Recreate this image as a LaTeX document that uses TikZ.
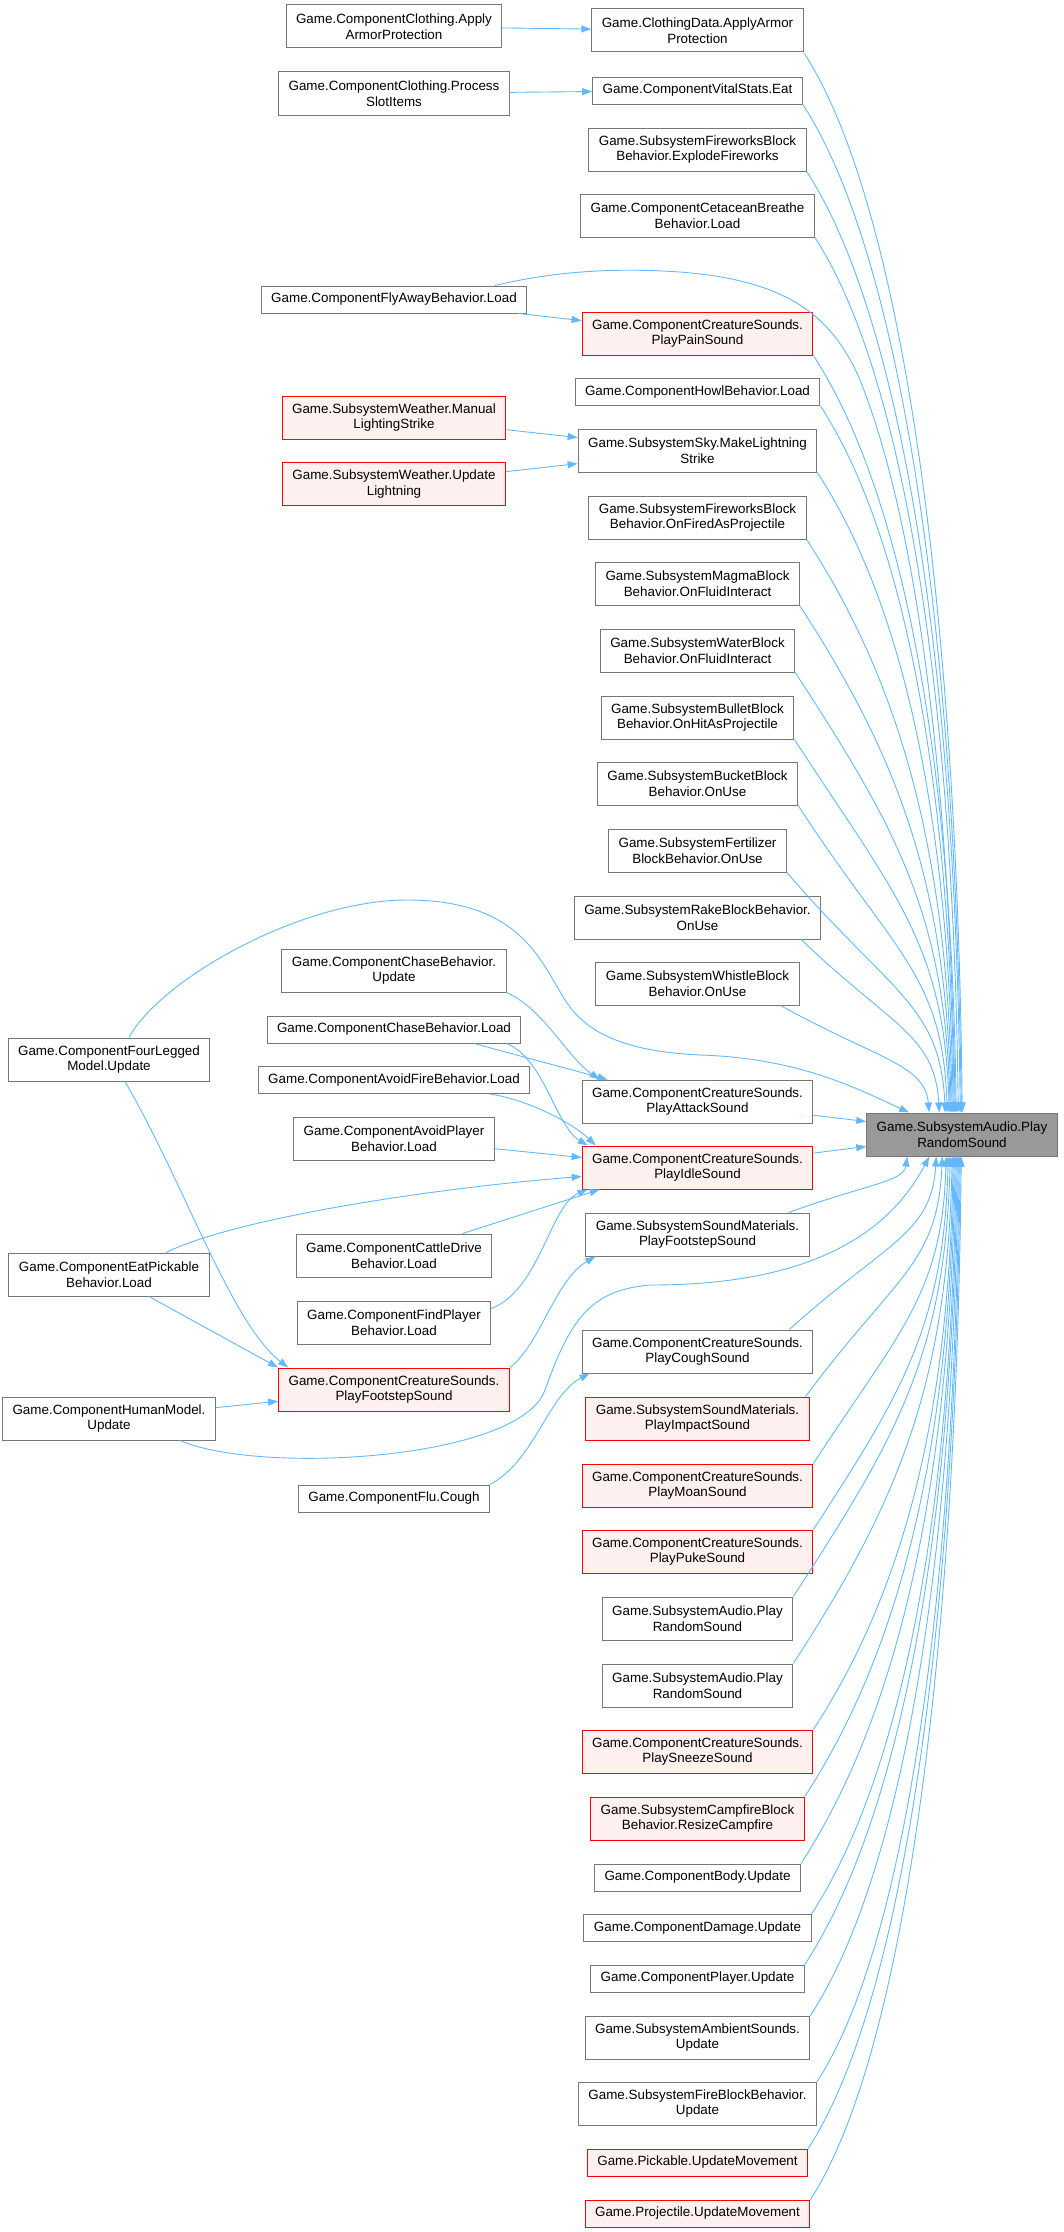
\documentclass[tikz,border=0pt]{standalone}
\usepackage{fontspec}
\setmainfont{Liberation Sans}
\usetikzlibrary{arrows.meta,calc}

\definecolor{edgeblue}{HTML}{63B8FF}
\definecolor{boxgray}{HTML}{777777}
\definecolor{hotfill}{HTML}{FFF0F0}
\definecolor{selfgray}{HTML}{999999}

\begin{document}
\begin{tikzpicture}[x=1pt,y=1pt,
	fn/.style={draw=boxgray, fill=white, line width=1pt, align=center, inner xsep=10pt, inner ysep=1pt, minimum height=27pt, font=\fontsize{13.4pt}{15.7pt}\selectfont},
	two/.style={minimum height=43pt},
	hot/.style={draw=red, fill=hotfill},
	self/.style={fill=selfgray},
	call/.style={draw=edgeblue, line width=0.9pt, -{Triangle[length=10pt,width=7pt]}}]
	\useasboundingbox (0,0) rectangle (1063,-2232);

	% the callee
	\node[fn,two,self] (audioMain) at (962,-1134.5) {Game.SubsystemAudio.Play\\RandomSound};

	% direct callers
	\node[fn,two] (clothData) at (697.5,-30.5) {Game.ClothingData.ApplyArmor\\Protection};
	\node[fn] (vitalEat) at (697.5,-90.5) {Game.ComponentVitalStats.Eat};
	\node[fn,two] (fwExplode) at (697.5,-149.5) {Game.SubsystemFireworksBlock\\Behavior.ExplodeFireworks};
	\node[fn,two] (cetacean) at (697.5,-215.5) {Game.ComponentCetaceanBreathe\\Behavior.Load};
	\node[fn,two,hot] (painSnd) at (697.5,-333.5) {Game.ComponentCreatureSounds.\\PlayPainSound};
	\node[fn] (howl) at (697.5,-392) {Game.ComponentHowlBehavior.Load};
	\node[fn,two] (skyStrike) at (697.5,-450.5) {Game.SubsystemSky.MakeLightning\\Strike};
	\node[fn,two] (fwFired) at (697.5,-517.5) {Game.SubsystemFireworksBlock\\Behavior.OnFiredAsProjectile};
	\node[fn,two] (magma) at (697.5,-584) {Game.SubsystemMagmaBlock\\Behavior.OnFluidInteract};
	\node[fn,two] (water) at (697.5,-650.5) {Game.SubsystemWaterBlock\\Behavior.OnFluidInteract};
	\node[fn,two] (bullet) at (697.5,-717.5) {Game.SubsystemBulletBlock\\Behavior.OnHitAsProjectile};
	\node[fn,two] (bucket) at (697.5,-783.5) {Game.SubsystemBucketBlock\\Behavior.OnUse};
	\node[fn,two] (fertil) at (697.5,-850.5) {Game.SubsystemFertilizer\\BlockBehavior.OnUse};
	\node[fn,two] (rake) at (697.5,-917.5) {Game.SubsystemRakeBlockBehavior.\\OnUse};
	\node[fn,two] (whistle) at (697.5,-983.5) {Game.SubsystemWhistleBlock\\Behavior.OnUse};
	\node[fn,two] (attackSnd) at (697.5,-1101.5) {Game.ComponentCreatureSounds.\\PlayAttackSound};
	\node[fn,two,hot] (idleSnd) at (697.5,-1167.5) {Game.ComponentCreatureSounds.\\PlayIdleSound};
	\node[fn,two] (smFootstep) at (697.5,-1234.5) {Game.SubsystemSoundMaterials.\\PlayFootstepSound};
	\node[fn,two] (coughSnd) at (697.5,-1351.5) {Game.ComponentCreatureSounds.\\PlayCoughSound};
	\node[fn,two,hot] (impactSnd) at (697.5,-1418.5) {Game.SubsystemSoundMaterials.\\PlayImpactSound};
	\node[fn,two,hot] (moanSnd) at (697.5,-1485.5) {Game.ComponentCreatureSounds.\\PlayMoanSound};
	\node[fn,two,hot] (pukeSnd) at (697.5,-1551.5) {Game.ComponentCreatureSounds.\\PlayPukeSound};
	\node[fn,two] (audioA) at (697.5,-1618.5) {Game.SubsystemAudio.Play\\RandomSound};
	\node[fn,two] (audioB) at (697.5,-1685.5) {Game.SubsystemAudio.Play\\RandomSound};
	\node[fn,two,hot] (sneezeSnd) at (697.5,-1751.5) {Game.ComponentCreatureSounds.\\PlaySneezeSound};
	\node[fn,two,hot] (campfire) at (697.5,-1818.5) {Game.SubsystemCampfireBlock\\Behavior.ResizeCampfire};
	\node[fn] (body) at (697.5,-1877.5) {Game.ComponentBody.Update};
	\node[fn] (damage) at (697.5,-1928) {Game.ComponentDamage.Update};
	\node[fn] (player) at (697.5,-1978.5) {Game.ComponentPlayer.Update};
	\node[fn,two] (ambient) at (697.5,-2037.5) {Game.SubsystemAmbientSounds.\\Update};
	\node[fn,two] (fireBlock) at (697.5,-2103.5) {Game.SubsystemFireBlockBehavior.\\Update};
	\node[fn,hot] (pickable) at (697.5,-2162.5) {Game.Pickable.UpdateMovement};
	\node[fn,hot] (projectile) at (697.5,-2213.5) {Game.Projectile.UpdateMovement};

	% second level
	\node[fn,two] (clothApply) at (394,-26.5) {Game.ComponentClothing.Apply\\ArmorProtection};
	\node[fn,two] (clothProc) at (394,-93.5) {Game.ComponentClothing.Process\\SlotItems};
	\node[fn] (flyAway) at (394,-299.5) {Game.ComponentFlyAwayBehavior.Load};
	\node[fn,two,hot] (wManual) at (394,-417.5) {Game.SubsystemWeather.Manual\\LightingStrike};
	\node[fn,two,hot] (wUpdate) at (394,-484) {Game.SubsystemWeather.Update\\Lightning};
	\node[fn,two] (chaseUpd) at (394,-970.5) {Game.ComponentChaseBehavior.\\Update};
	\node[fn] (chaseLoad) at (394,-1029.5) {Game.ComponentChaseBehavior.Load};
	\node[fn] (avoidFire) at (394,-1080) {Game.ComponentAvoidFireBehavior.Load};
	\node[fn,two] (avoidPlayer) at (394,-1138.5) {Game.ComponentAvoidPlayer\\Behavior.Load};
	\node[fn,two] (cattle) at (394,-1255.5) {Game.ComponentCattleDrive\\Behavior.Load};
	\node[fn,two] (findPlayer) at (394,-1322.5) {Game.ComponentFindPlayer\\Behavior.Load};
	\node[fn,two,hot] (csFootstep) at (394,-1389.5) {Game.ComponentCreatureSounds.\\PlayFootstepSound};
	\node[fn] (fluCough) at (394,-1498.5) {Game.ComponentFlu.Cough};

	% third level
	\node[fn,two] (fourLeg) at (109,-1059.5) {Game.ComponentFourLegged\\Model.Update};
	\node[fn,two] (eatPick) at (109,-1274.5) {Game.ComponentEatPickable\\Behavior.Load};
	\node[fn,two] (humanModel) at (109,-1418.5) {Game.ComponentHumanModel.\\Update};

	% calls into the callee
	\foreach \nd/\s/\e in {clothData/0/96, vitalEat/0/95, fwExplode/0/94, cetacean/0/92, painSnd/0/90, howl/0/88, skyStrike/0/87, fwFired/0/86, magma/0/85, water/0/84, bullet/0/83, bucket/0/81, fertil/0/79, rake/20/73, whistle/19/63}
		\draw[call] let \p1=([xshift=-\s pt]\nd.south east), \p2=([xshift=\e pt]audioMain.north west), \n1={\x2-\x1}, \n2={\y1-\y2} in
			(\p1) .. controls ({\x1+0.65*\n1},{\y1-min(\n1,0.5*\n2)}) and ({\x2-0.03*\n1},{\y2+0.45*\n2}) .. (\p2);
	\foreach \nd/\s/\e in {smFootstep/21/41, coughSnd/24/70, impactSnd/4/76, moanSnd/0/80, pukeSnd/0/82, audioA/0/84, audioB/0/86, sneezeSnd/0/87, campfire/0/88, body/0/89, damage/0/90, player/0/91, ambient/0/92, fireBlock/0/93, pickable/0/94, projectile/0/95}
		\draw[call] let \p1=([xshift=-\s pt]\nd.north east), \p2=([xshift=\e pt]audioMain.south west), \n1={\x2-\x1}, \n2={\y2-\y1} in
			(\p1) .. controls ({\x1+0.65*\n1},{\y1+min(\n1,0.5*\n2)}) and ({\x2-0.03*\n1},{\y2-0.45*\n2}) .. (\p2);
	\draw[call] (attackSnd) -- ([yshift=13pt]audioMain.west);
	\draw[call] (idleSnd) -- ([yshift=-12pt]audioMain.west);
	\draw[call] ([xshift=101pt]flyAway.north) .. controls (560,-270) and (620,-268) .. (680,-272) .. controls (780,-280) and (830,-310) .. (860,-380) .. controls (920,-530) and (950,-800) .. ([xshift=89pt]audioMain.north west);
	\draw[call] ([xshift=20pt]fourLeg.north) .. controls (160,-980) and (300,-900) .. (407,-900) .. controls (520,-900) and (540,-960) .. (565,-1000) .. controls (590,-1040) and (640,-1052) .. (700,-1055) .. controls (800,-1058) and (860,-1090) .. ([xshift=43pt]audioMain.north west);
	\draw[call] ([xshift=71pt]humanModel.south) .. controls (260,-1475) and (520,-1460) .. (545,-1390) .. controls (570,-1320) and (590,-1290) .. (650,-1285) .. controls (740,-1285) and (870,-1270) .. ([xshift=63pt]audioMain.south west);

	% calls between the callers
	\draw[call] (clothApply) -- (clothData);
	\draw[call] (clothProc) -- (vitalEat);
	\draw[call] (flyAway) -- (painSnd);
	\draw[call] (wManual) -- (skyStrike);
	\draw[call] (wUpdate) -- (skyStrike);
	\draw[call] (chaseUpd.south east) .. controls (545,-1010) and (565,-1055) .. ([xshift=18pt]attackSnd.north west);
	\draw[call] ([xshift=80pt]chaseLoad.south) -- ([xshift=26pt]attackSnd.north west);
	\draw[call] ([xshift=113pt]chaseLoad.south) .. controls (545,-1060) and (555,-1125) .. ([xshift=6pt]idleSnd.north west);
	\draw[call] ([xshift=96pt]avoidFire.south) .. controls (530,-1100) and (575,-1125) .. ([xshift=14pt]idleSnd.north west);
	\draw[call] (avoidPlayer) -- ([yshift=10pt]idleSnd.west);
	\draw[call] ([xshift=57pt]eatPick.north) .. controls (236,-1218) and (434,-1188) .. ([yshift=-9pt]idleSnd.west);
	\draw[call] (cattle) -- ([xshift=18pt]idleSnd.south west);
	\draw[call] ([yshift=14pt]findPlayer.east) .. controls (540,-1290) and (550,-1205) .. ([xshift=6pt]idleSnd.south west);
	\draw[call] (csFootstep.north east) .. controls (540,-1345) and (555,-1280) .. ([xshift=10pt]smFootstep.south west);
	\draw[call] (fluCough.north east) .. controls (535,-1460) and (548,-1395) .. ([xshift=8pt]coughSnd.south west);
	\draw[call] ([xshift=16pt]fourLeg.south) .. controls (185,-1185) and (231,-1323) .. ([xshift=10pt]csFootstep.north west);
	\draw[call] (eatPick) -- (csFootstep.north west);
	\draw[call] (humanModel) -- (csFootstep);
\end{tikzpicture}
\end{document}
